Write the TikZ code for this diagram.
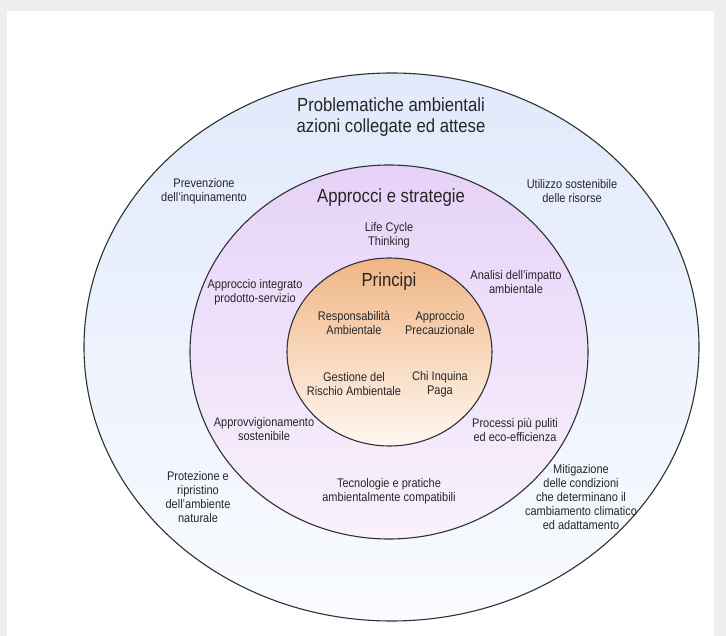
\documentclass[tikz,border=0pt]{standalone}
\usepackage{fontspec}
\setmainfont[FakeStretch=0.88]{Liberation Sans}
\definecolor{pagegray}{HTML}{EFEFEF}
\definecolor{outertop}{HTML}{E1E9FB}
\definecolor{outerbot}{HTML}{F9FBFF}
\definecolor{midtop}{HTML}{E6D2F8}
\definecolor{midbot}{HTML}{F9F2FC}
\definecolor{innertop}{HTML}{F0B585}
\definecolor{innermid}{HTML}{F7D4B2}
\definecolor{innerbot}{HTML}{FEF8F1}
\definecolor{txtgray}{HTML}{262626}
\definecolor{rimgray}{HTML}{303030}

\begin{document}
\begin{tikzpicture}[x=1pt,y=-1pt,
  rim/.style={draw=rimgray,line width=1.1pt},
  lbl/.style={align=center,text=txtgray,inner sep=0pt,font=\fontsize{12.5}{14}\selectfont},
  head/.style={align=center,text=txtgray,inner sep=0pt,font=\fontsize{19}{20.5}\selectfont}]

\fill[pagegray] (0,0) rectangle (726,636);
\fill[white] (7,11) rectangle (714,636);

\shade[rim,top color=outertop,bottom color=outerbot] (391.5,347) ellipse [x radius=307.5pt, y radius=274pt];
\shade[rim,top color=midtop,bottom color=midbot] (389,352) ellipse [x radius=199pt, y radius=187pt];
\shade[rim,top color=innertop,middle color=innermid,bottom color=innerbot] (389.5,352) ellipse [x radius=102.5pt, y radius=94pt];

\node[head] (problem) at (391,117) {Problematiche ambientali\\azioni collegate ed attese};
\node[lbl] (prevent) at (204,191.5) {Prevenzione\\dell'inquinamento};
\node[lbl] (resource) at (572,191.5) {Utilizzo sostenibile\\delle risorse};
\node[lbl] (protect) at (198,497.5) {Protezione e\\ripristino\\dell'ambiente\\naturale};
\node[lbl] (climate) at (581,497.5) {Mitigazione\\delle condizioni\\che determinano il\\cambiamento climatico\\ed adattamento};

\node[head] (approach) at (391,198) {Approcci e strategie};
\node[lbl] (lifecycle) at (389,235) {Life Cycle\\Thinking};
\node[lbl] (product) at (255,292) {Approccio integrato\\prodotto-servizio};
\node[lbl] (impact) at (516,282) {Analisi dell'impatto\\ambientale};
\node[lbl] (supply) at (264,429.5) {Approvvigionamento\\sostenibile};
\node[lbl] (cleaner) at (515,429.5) {Processi più puliti\\ed eco-efficienza};
\node[lbl] (techno) at (389,491) {Tecnologie e pratiche\\ambientalmente compatibili};

\node[head] (principle) at (389,282) {Principi};
\node[lbl] (respons) at (354,323) {Responsabilità\\Ambientale};
\node[lbl] (precaut) at (440,323) {Approccio\\Precauzionale};
\node[lbl] (risk) at (354,384.5) {Gestione del\\Rischio Ambientale};
\node[lbl] (polluter) at (440,384.5) {Chi Inquina\\Paga};
\end{tikzpicture}
\end{document}
